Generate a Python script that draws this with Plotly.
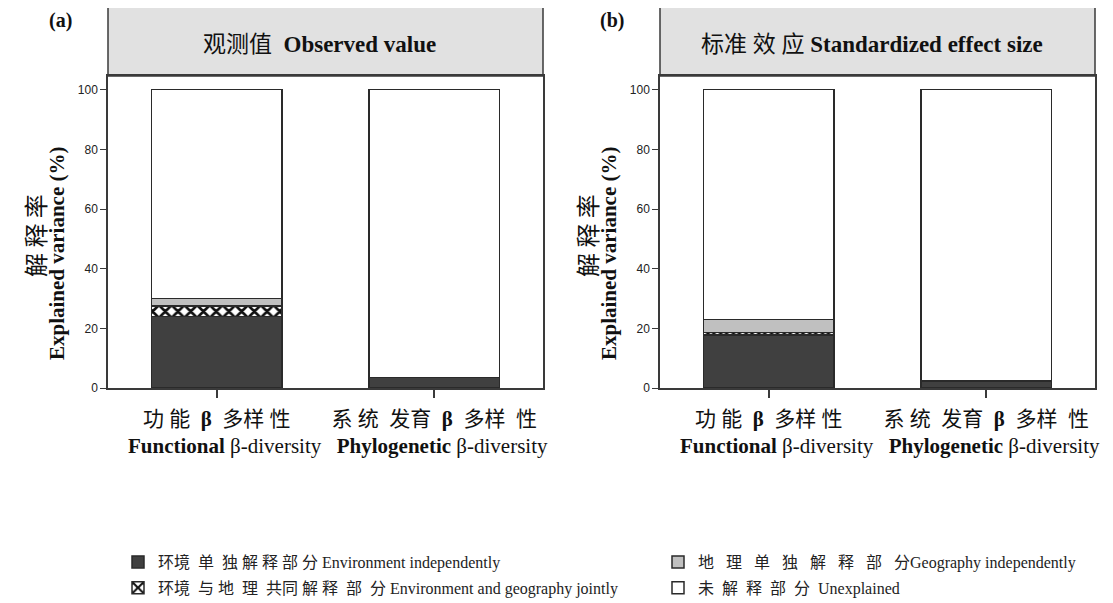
import plotly.graph_objects as go

# ---------------- data ----------------
categories = ["Functional", "Phylogenetic"]
NB = "\u00a0"
tick_labels = [
    "功 能  <b>β</b>  多样 性<br>" + NB * 3 + "<b>Functional</b> β-diversity",
    "系 统  发育  <b>β</b>  多样  性<br>" + NB * 3 + "<b>Phylogenetic</b> β-diversity",
]
# (a) observed value
obs_env = [24.0, 3.5]
obs_joint = [3.5, 0.0]
obs_geo = [2.5, 0.0]
obs_unexp = [70.0, 96.5]
# (b) standardized effect size
ses_env = [17.8, 2.3]
ses_joint = [0.8, 0.0]
ses_geo = [4.3, 0.0]
ses_unexp = [77.1, 97.7]

series_names = [
    "环境  单  独 解 释 部 分 Environment independently",
    "环境  与 地  理  共同 解 释  部  分 Environment and geography jointly",
    "地   理   单   独   解   释   部   分Geography independently",
    "未  解  释  部  分  Unexplained",
]
series_legend = ["legend", "legend", "legend2", "legend2"]
panel_titles = ["观测值  <b>Observed value</b>", "标准 效 应 <b>Standardized effect size</b>"]
panel_letters = ["<b>(a)</b>", "<b>(b)</b>"]
y_ticks = [0, 20, 40, 60, 80, 100]

# ---------------- styling ----------------
OFF = 8                       # page body margin offset
W, H = 1113 - OFF, 603 - OFF  # figure size so the page fits the window
SERIF = "Liberation Serif, Noto Sans CJK SC, serif"
SANS = "Liberation Sans, Arial, sans-serif"
CJK = "Noto Sans CJK SC, Liberation Serif"
edge = dict(color="#2a2a2a", width=1.5)
styles = [
    dict(color="#404040", line=edge),
    dict(color="white", line=edge,
         pattern=dict(shape="x", fgcolor="#111111", bgcolor="white", size=9, solidity=0.5)),
    dict(color="#c0c0c0", line=edge),
    dict(color="white", line=edge),
]

def px_x(p):
    return (p - OFF) / W

def px_y(p):
    return 1 - (p - OFF) / H

panels = [
    dict(xaxis="x", yaxis="y", dom=(108, 543), vals=[obs_env, obs_joint, obs_geo, obs_unexp]),
    dict(xaxis="x2", yaxis="y2", dom=(660, 1095), vals=[ses_env, ses_joint, ses_geo, ses_unexp]),
]

fig = go.Figure()
for pi, p in enumerate(panels):
    for si, vals in enumerate(p["vals"]):
        fig.add_trace(go.Bar(
            x=categories, y=vals, name=series_names[si],
            marker=styles[si], xaxis=p["xaxis"], yaxis=p["yaxis"],
            showlegend=(pi == 0), legend=series_legend[si],
            legendgroup="g%d" % si,
            width=0.6,
        ))

plot_top, plot_bottom = 76, 388
head_top = 7
y_max = (plot_bottom - plot_top) / ((plot_bottom - 89.7) / 100.0)

axis_common = dict(showline=True, mirror=True, linecolor="#3a3a3a", linewidth=1.5,
                   showgrid=False, zeroline=False, automargin=False)
layout_axes = {}
for pi, p in enumerate(panels):
    sx = "" if pi == 0 else "2"
    layout_axes["xaxis" + sx] = dict(
        domain=[px_x(p["dom"][0]), px_x(p["dom"][1])], anchor="y" + sx,
        tickmode="array", tickvals=categories, ticktext=tick_labels,
        ticks="outside", ticklen=8, tickwidth=1.5, tickcolor="#3a3a3a",
        ticklabelstandoff=3, tickangle=0,
        tickfont=dict(family=SERIF, size=21, color="#111"),
        range=[-0.5, 1.5], **axis_common)
    layout_axes["yaxis" + sx] = dict(
        domain=[px_y(plot_bottom), px_y(plot_top)], anchor="x" + sx,
        range=[0, y_max], tickvals=y_ticks,
        ticks="outside", ticklen=6, tickwidth=1.2, tickcolor="#3a3a3a",
        tickfont=dict(family=SANS, size=12, color="#222"),
        **axis_common)

shapes = []
annotations = []
for pi, p in enumerate(panels):
    x0, x1 = p["dom"]
    shapes.append(dict(type="rect", xref="paper", yref="paper",
                       x0=px_x(x0), x1=px_x(x1), y0=px_y(plot_top), y1=px_y(head_top),
                       fillcolor="#e1e1e1", line=dict(color="#3a3a3a", width=1.5), layer="below"))
    annotations.append(dict(text=panel_titles[pi], xref="paper", yref="paper",
                            x=px_x((x0 + x1) / 2 - 6), y=px_y(44), showarrow=False,
                            xanchor="center", yanchor="middle",
                            font=dict(family=SERIF, size=23, color="#111")))
    annotations.append(dict(text=panel_letters[pi], xref="paper", yref="paper",
                            x=px_x(x0 - 48), y=px_y(20), showarrow=False,
                            xanchor="center", yanchor="middle",
                            font=dict(family=SERIF, size=20, color="#111")))
    annotations.append(dict(text="解 释 率", xref="paper", yref="paper",
                            x=px_x(x0 - 73), y=px_y(236), showarrow=False, textangle=-90,
                            xanchor="center", yanchor="middle",
                            font=dict(family=CJK, size=24, color="#111")))
    annotations.append(dict(text="<b>Explained variance (%)</b>", xref="paper", yref="paper",
                            x=px_x(x0 - 51), y=px_y(253), showarrow=False, textangle=-90,
                            xanchor="center", yanchor="middle",
                            font=dict(family=SERIF, size=21, color="#111")))

legend_common = dict(orientation="v", xanchor="left", yanchor="top",
                     font=dict(family=SERIF, size=16, color="#222"),
                     traceorder="grouped", tracegroupgap=2, itemwidth=30,
                     bgcolor="rgba(0,0,0,0)")

fig.update_layout(
    width=W, height=H,
    template="none",
    margin=dict(l=0, r=0, t=0, b=0, autoexpand=False),
    paper_bgcolor="white", plot_bgcolor="white",
    barmode="stack",
    shapes=shapes, annotations=annotations,
    legend=dict(x=px_x(118), y=px_y(545), **legend_common),
    legend2=dict(x=px_x(658), y=px_y(545), **legend_common),
    **layout_axes,
)

fig.write_html("out.html")
